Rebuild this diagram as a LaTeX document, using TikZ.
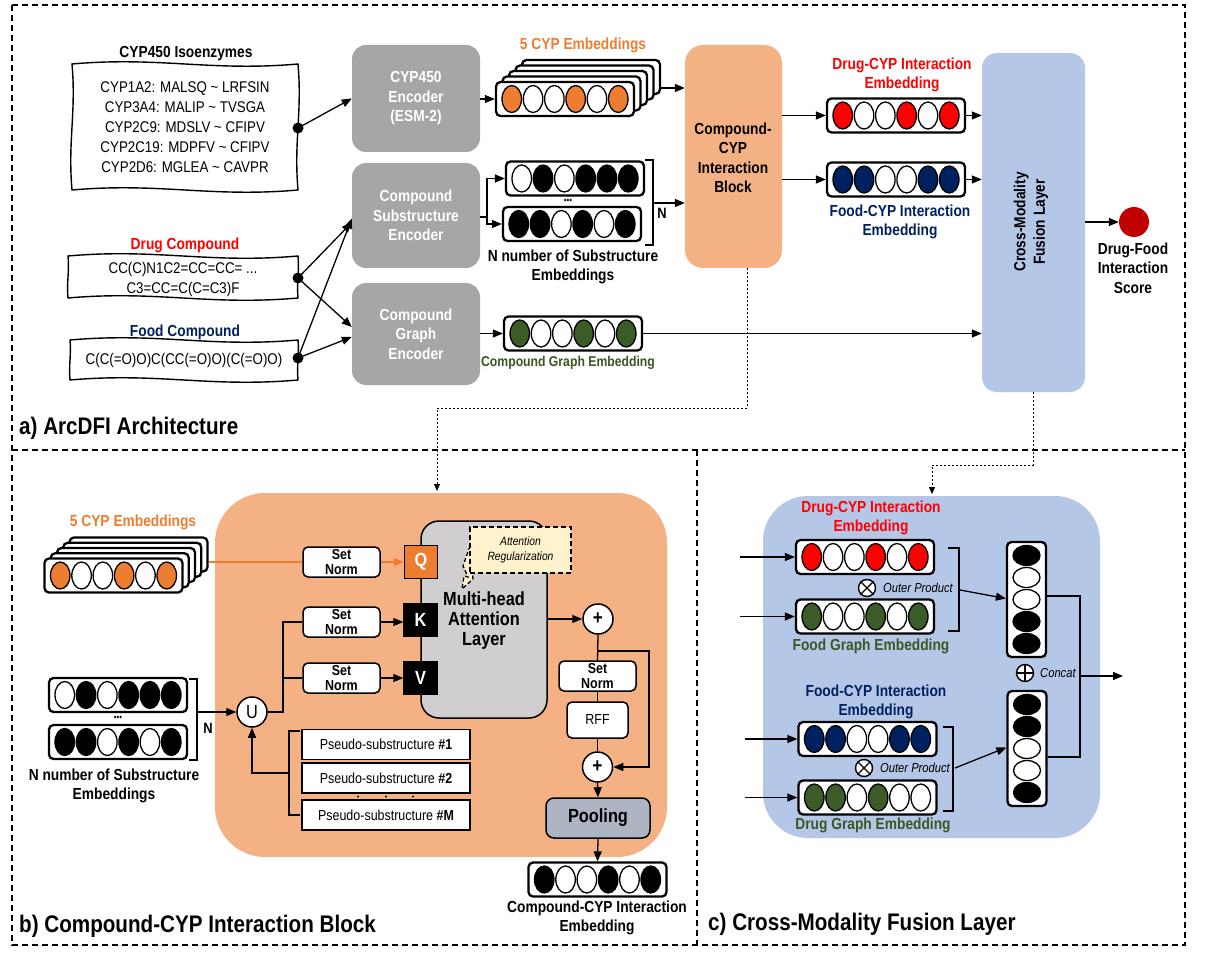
\documentclass[tikz,border=0pt]{standalone}
\usepackage{fontspec}
\setmainfont{Liberation Sans}[FakeStretch=0.86]
\usetikzlibrary{arrows.meta,shapes.geometric,calc}
\definecolor{eor}{HTML}{ED7D31}
\definecolor{ered}{HTML}{FF0000}
\definecolor{enav}{HTML}{002060}
\definecolor{egrn}{HTML}{3B5B27}
\definecolor{tgrn}{HTML}{385723}
\definecolor{encg}{HTML}{A6A6A6}
\definecolor{blko}{HTML}{F4B183}
\definecolor{fusb}{HTML}{B4C7E7}
\definecolor{attg}{HTML}{D0CECE}
\definecolor{poolg}{HTML}{ADB5C2}
\definecolor{yel}{HTML}{FFF2CC}
\definecolor{scr}{HTML}{C00000}
\newcommand{\myfs}[2]{\fontsize{#1}{#2}\selectfont}
\newcommand{\embrow}[4]{%
  \node[embbox] (#1) at (#2,#3) {};
  \foreach \ecol [count=\ei] in {#4}{\node[embell,fill=\ecol] (#1e\ei) at ({#2+(\ei-3.5)*21.3},#3) {};}%
}
\newcommand{\vemb}[4]{%
  \node[vbox] (#1) at (#2,#3) {};
  \foreach \ecol [count=\ei] in {#4}{\node[vell,fill=\ecol] (#1e\ei) at (#2,{#3+(\ei-3)*22}) {};}%
}
\newcommand{\wbox}[4]{\draw[wbx] (#1,#2) to[out=5,in=185] (#3,#2) to[out=-85,in=95] (#3,#4) to[out=185,in=5] (#1,#4) to[out=95,in=-85] cycle;}
\begin{document}
\begin{tikzpicture}[x=1pt,y=-1pt,
  embbox/.style={draw, fill=white, line width=2.3pt, rounded corners=4.5pt, minimum width=138pt, minimum height=34pt, inner sep=0pt},
  embell/.style={ellipse, draw, line width=1.3pt, minimum width=19.5pt, minimum height=27pt, inner sep=0pt},
  vbox/.style={draw, fill=white, line width=2.3pt, rounded corners=4.5pt, minimum width=39pt, minimum height=115pt, inner sep=0pt},
  vell/.style={ellipse, draw, line width=1.3pt, minimum width=27pt, minimum height=20pt, inner sep=0pt},
  lab/.style={font=\bfseries\myfs{16}{19.5}, align=center, inner sep=0pt},
  reg/.style={font=\myfs{15.5}{20}, align=center, inner sep=0pt},
  enc/.style={fill=encg, rounded corners=14pt, minimum width=128pt, text=white, font=\bfseries\myfs{16}{19.5}, align=center},
  ttl/.style={font=\bfseries\myfs{24}{28}, anchor=west, inner sep=0pt},
  arr/.style={line width=1.3pt, -{Triangle[length=10pt,width=8pt]}},
  ln/.style={line width=1.3pt},
  brk/.style={line width=2.2pt},
  dotn/.style={circle, fill=black, minimum size=11pt, inner sep=0pt},
  sn/.style={draw, fill=white, rounded corners=5pt, line width=1.5pt, minimum width=77pt, minimum height=30pt, font=\bfseries\myfs{14.5}{15}, align=center, inner sep=0pt},
  qkv/.style={minimum size=33pt, inner sep=0pt, font=\bfseries\myfs{19}{20}, text=white, draw=black, line width=1.3pt},
  opc/.style={circle, draw, fill=white, line width=1.5pt, minimum size=30pt, inner sep=0pt, font=\myfs{19}{20}},
  ps/.style={draw, fill=white, line width=1.5pt, minimum width=168pt, minimum height=30pt, font=\myfs{14.5}{15}, inner sep=0pt},
  smop/.style={circle, draw, fill=white, line width=1.4pt, minimum size=17pt, inner sep=0pt},
  dsh/.style={line width=1.4pt, dash pattern=on 6pt off 4pt},
  conn/.style={line width=0.8pt, dash pattern=on 2pt off 2pt, -{Triangle[length=7pt,width=6pt]}},
  wbx/.style={line width=1.4pt, fill=white},
  itl/.style={font=\itshape\myfs{13}{15}, inner sep=0pt}
]
\useasboundingbox (0,0) rectangle (1209,957);
\fill[white] (0,0) rectangle (1209,957);

% ---------- frames ----------
\draw[dsh] (12,5) rectangle (1185,945);
\draw[dsh] (12,450) -- (1185,450);
\draw[dsh] (697,450) -- (697,945);

% ================= panel a =================
\wbox{72}{64}{298}{190}
\node[lab] (cyptitle) at (186,54) {CYP450 Isoenzymes};
\node[reg] (cyptext) at (185,127) {CYP1A2: MALSQ \textasciitilde{} LRFSIN\\CYP3A4: MALIP \textasciitilde{} TVSGA\\CYP2C9: MDSLV \textasciitilde{} CFIPV\\CYP2C19: MDPFV \textasciitilde{} CFIPV\\CYP2D6: MGLEA \textasciitilde{} CAVPR};
\node[dotn] (cypdot) at (298,128) {};

\node[lab, text=ered] (druglab) at (185,245) {Drug Compound};
\wbox{68}{256}{298}{298}
\node[reg] (drugtext) at (183,279) {CC(C)N1C2=CC=CC= ...\\C3=CC=C(C=C3)F};
\node[dotn] (drugdot) at (298,278) {};

\node[lab, text=enav] (foodlab) at (185,332) {Food Compound};
\wbox{70}{340}{298}{380}
\node[reg] (foodtext) at (184,360) {C(C(=O)O)C(CC(=O)O)(C(=O)O)};
\node[dotn] (fooddot) at (298,358) {};

\node[enc, minimum height=107pt] (cypenc) at (416,98.5) {CYP450\\Encoder\\(ESM-2)};
\node[enc, minimum height=105pt] (subenc) at (416,215.5) {Compound\\Substructure\\Encoder};
\node[enc, minimum height=102pt] (grenc) at (416,334) {Compound\\Graph\\Encoder};

\draw[arr] (cypdot.center) -- (cypenc.west);
\draw[arr] (drugdot.center) -- ($(subenc.west)+(0,7)$);
\draw[arr] (drugdot.center) -- ($(grenc.west)+(0,-7)$);
\draw[arr] (fooddot.center) -- ($(subenc.west)+(0,3)$);
\draw[arr] (fooddot.center) -- ($(grenc.west)+(0,3)$);

% 5 CYP embeddings (a)
\node[lab, text=eor] (cyplabA) at (583,45) {5 CYP Embeddings};
\foreach \k in {4,3,2,1}{\node[embbox] (cypA\k) at ({565+6.5*\k},{99-5.5*\k}) {};}
\embrow{cypA}{565}{99}{eor,white,white,eor,white,eor}
\draw[arr] (cypenc.east |- cypA.west) -- (cypA.west);

% substructure embeddings (a)
\embrow{subA1}{575}{178.5}{white,black,white,black,black,black}
\embrow{subA2}{572}{224}{black,black,white,black,white,black}
\node[font=\myfs{9}{9}] (subAdots) at (568,201) {\textbullet\textbullet\textbullet};
\coordinate (spA) at (487,217);
\draw[ln] (subenc.east |- spA) -- (spA);
\draw[arr] (spA) |- (subA1.west);
\draw[arr] (spA) |- (subA2.west);
\draw[brk] (645,160) -- (653,160) -- (653,245) -- (645,245);
\coordinate (brA) at (653,203);
\node[font=\bfseries\myfs{15}{15}] (nA) at (662,213) {N};
\node[lab] (sublabA) at (573,267) {N number of Substructure\\Embeddings};

% compound-CYP block (a)
\node[fill=blko, rounded corners=18pt, minimum width=97pt, minimum height=223pt, inner sep=0pt] (blkA) at (733.5,156.5) {};
\node[lab] (blkAtxt) at (733,158) {Compound-\\CYP\\Interaction\\Block};
\draw[arr] (cypA4.east |- cypA2.east) -- (blkA.west |- cypA2.east);
\draw[arr] (brA) -- (blkA.west |- brA);

% graph embedding (a)
\embrow{cgeA}{573}{333.5}{egrn,white,white,egrn,white,egrn}
\node[lab, text=tgrn, font=\bfseries\myfs{14.2}{16}] (cgelab) at (568,363) {Compound Graph Embedding};
\draw[arr] (grenc.east |- cgeA.west) -- (cgeA.west);

% interaction embeddings (a)
\node[lab, text=ered] (dcyplab) at (902,75) {Drug-CYP Interaction\\Embedding};
\embrow{dcypA}{896}{115.5}{ered,white,white,ered,white,ered}
\embrow{fcypA}{896}{179.5}{enav,enav,white,white,enav,enav}
\node[lab, text=enav] (fcyplab) at (900,222) {Food-CYP Interaction\\Embedding};

% fusion (a)
\node[fill=fusb, rounded corners=15pt, minimum width=103pt, minimum height=339pt, inner sep=0pt] (fus) at (1033.5,222.5) {};
\node[lab, rotate=90] (fustxt) at (1031,222) {Cross-Modality\\Fusion Layer};
\draw[arr] (blkA.east |- dcypA.west) -- (dcypA.west);
\draw[arr] (blkA.east |- fcypA.west) -- (fcypA.west);
\draw[arr] (dcypA.east) -- (fus.west |- dcypA.east);
\draw[arr] (fcypA.east) -- (fus.west |- fcypA.east);
\draw[arr] (cgeA.east) -- (fus.west |- cgeA.east);

\node[circle, fill=scr, minimum size=30pt, inner sep=0pt] (score) at (1134,222) {};
\draw[arr] (fus.east |- score) -- (score.west);
\node[lab] (scorelab) at (1133,268) {Drug-Food\\Interaction\\Score};

\node[ttl] (ttlA) at (19,428) {a) ArcDFI Architecture};

% dashed connectors
\coordinate (c1a) at (747,408);
\coordinate (c1b) at (437,491);
\draw[conn] (blkA.south -| c1a) -- (c1a) -| (c1b);
\coordinate (c2a) at (1033,465);
\coordinate (c2b) at (932,494);
\draw[conn] (fus.south -| c2a) -- (c2a) -| (c2b);

% ================= panel b =================
\node[fill=blko, rounded corners=50pt, minimum width=452pt, minimum height=364pt, inner sep=0pt] (blkB) at (441,675) {};

\node[lab, text=eor] (cyplabB) at (133,522) {5 CYP Embeddings};
\foreach \k in {4,3,2,1}{\node[embbox] (cypB\k) at ({113.5+6.25*\k},{575.5-5.25*\k}) {};}
\embrow{cypB}{113.5}{575.5}{eor,white,white,eor,white,eor}

\node[fill=attg, draw, line width=1.5pt, rounded corners=18pt, minimum width=126pt, minimum height=197pt, inner sep=0pt] (att) at (484,619.5) {};
\node[font=\bfseries\myfs{19}{20}, align=center, inner sep=0pt] (atttxt) at (484,621) {Multi-head\\Attention\\Layer};

\filldraw[fill=yel, line width=1.3pt, dash pattern=on 4pt off 2.5pt] (470,546) -- (484,552) -- (476,571) -- (472,570) -- (473,579) -- (462,589) -- (464,576) -- (468,577) -- (463,566) -- cycle;
\node[draw, fill=yel, line width=1.6pt, dash pattern=on 5pt off 3pt, minimum width=101pt, minimum height=46pt, align=center, font=\itshape\myfs{12}{15}, inner sep=0pt] (areg) at (520.5,550) {Attention\\Regularization};

\node[sn] (snQ) at (341.5,562) {Set\\Norm};
\node[sn] (snK) at (341.5,622) {Set\\Norm};
\node[sn] (snV) at (341.5,678) {Set\\Norm};
\node[qkv, fill=eor] (Q) at (421,562) {Q};
\node[qkv, fill=black] (K) at (420.5,620) {K};
\node[qkv, fill=black] (V) at (420.5,678) {V};

\draw[line width=1.5pt, eor] (cypB4.east |- snQ.west) -- (snQ.west);
\draw[line width=1.5pt, eor, -{Triangle[length=10pt,width=8pt]}] (snQ.east) -- (Q.west);
\draw[arr] (snK.east) -- (K.west |- snK.east);
\draw[arr] (snV.east) -- (V.west);

% substructure embeddings (b)
\embrow{subB1}{118}{695}{white,black,white,black,black,black}
\embrow{subB2}{118}{742}{black,black,white,black,white,black}
\node[font=\myfs{9}{9}] (subBdots) at (118,718) {\textbullet\textbullet\textbullet};
\draw[brk] (189,679) -- (197,679) -- (197,760) -- (189,760);
\node[font=\bfseries\myfs{15}{15}] (nB) at (208,728) {N};
\node[lab] (sublabB) at (114,786) {N number of Substructure\\Embeddings};

\node[opc] (U) at (252,712) {U};
\coordinate (sbB) at (197,712);
\draw[arr] (sbB) -- (U.west);
\coordinate (uj) at (283,712);
\draw[ln] (U.east) -- (uj) |- (snK.west);
\draw[ln] (uj |- snV.west) -- (snV.west);

\node[ps] (ps1) at (386,744.5) {Pseudo-substructure \textbf{\#1}};
\node[ps] (ps2) at (386,778) {Pseudo-substructure \textbf{\#2}};
\node[ps] (ps3) at (386,815) {Pseudo-substructure \textbf{\#M}};
\foreach \dx in {358,386,413}{\fill (\dx,796.5) circle (1.1pt);}
\draw[ln] (300,731) -- (289,731) -- (289,815) -- (300,815);
\coordinate (pb) at (289,773);
\draw[arr] (pb) -| (U.south);

% right column (b)
\node[opc, font=\bfseries\myfs{20}{20}] (p1) at (598,619) {+};
\node[sn] (sn2) at (597.5,676) {Set\\Norm};
\node[sn, font=\myfs{14.5}{15}, minimum width=61pt, minimum height=36pt] (rff) at (597.5,720) {RFF};
\node[opc, font=\bfseries\myfs{20}{20}] (p2) at (597.5,767) {+};
\node[fill=poolg, draw, line width=1.5pt, rounded corners=8pt, minimum width=104pt, minimum height=40pt, font=\bfseries\myfs{19}{20}, inner sep=0pt] (pool) at (598,818) {Pooling};

\draw[arr] (att.east |- p1) -- (p1.west);
\draw[ln] (p1.south) -- (sn2.north);
\coordinate (br1) at (598,651);
\coordinate (rc) at (649,651);
\draw[arr] (br1) -- (rc) |- (p2.east);
\draw[ln] (sn2.south) -- (rff.north);
\draw[ln] (rff.south) -- (p2.north);
\draw[arr] (p2.south) -- (pool.north);

\embrow{outB}{597.5}{879.5}{black,white,white,black,white,black}
\draw[arr] (pool.south) -- (outB.north);
\node[lab] (outlab) at (597,918) {Compound-CYP Interaction\\Embedding};

\node[ttl] (ttlB) at (19,926) {b) Compound-CYP Interaction Block};

% ================= panel c =================
\node[fill=fusb, rounded corners=45pt, minimum width=337pt, minimum height=342pt, inner sep=0pt] (fusC) at (931.5,667) {};

\node[lab, text=ered] (dcyplabC) at (871,518) {Drug-CYP Interaction\\Embedding};
\embrow{c1}{865}{557}{ered,white,white,ered,white,ered}
\embrow{c2}{865}{616.5}{egrn,white,white,egrn,white,egrn}
\node[lab, text=tgrn] (fglab) at (871,646) {Food Graph Embedding};
\node[smop] (ot1) at (867,588) {};
\draw[line width=1.3pt] (ot1.north west) -- (ot1.south east) (ot1.north east) -- (ot1.south west);
\node[itl, anchor=west] (otl1) at (883,588) {Outer Product};

\node[lab, text=enav] (fcyplabC) at (876,702) {Food-CYP Interaction\\Embedding};
\embrow{c3}{867.5}{739}{enav,enav,white,white,enav,enav}
\embrow{c4}{867.5}{797.5}{egrn,egrn,white,egrn,white,white}
\node[lab, text=tgrn] (dglab) at (873,825) {Drug Graph Embedding};
\node[smop] (ot2) at (864,768) {};
\draw[line width=1.3pt] (ot2.north west) -- (ot2.south east) (ot2.north east) -- (ot2.south west);
\node[itl, anchor=west] (otl2) at (880,768) {Outer Product};

\coordinate (in1) at (740,557);
\coordinate (in2) at (740,616.5);
\coordinate (in3) at (745,739);
\coordinate (in4) at (745,797.5);
\draw[arr] (in1) -- (c1.west);
\draw[arr] (in2) -- (c2.west);
\draw[arr] (in3) -- (c3.west);
\draw[arr] (in4) -- (c4.west);

\draw[brk] (948,548) -- (959,548) -- (959,631) -- (948,631);
\draw[brk] (943,727) -- (953,727) -- (953,811) -- (943,811);

\vemb{v1}{1026.5}{599.5}{black,white,white,black,black}
\vemb{v2}{1027}{748.5}{black,black,white,white,black}

\coordinate (b1) at (960,590);
\coordinate (b2) at (955,768);
\draw[arr] (b1) -- ($(v1.west)+(0,-1)$);
\draw[arr] (b2) -- ($(v2.west)+(0,-1)$);

\coordinate (cj1) at (1080,596);
\coordinate (cj2) at (1080,757);
\coordinate (cjm) at (1080,676);
\coordinate (cout) at (1123,676);
\draw[line width=1.8pt] (v1.east |- cj1) -- (cj1) -- (cj2) -- (v2.east |- cj2);
\draw[arr] (cjm) -- (cout);
\node[smop] (cc) at (1025,673) {};
\draw[line width=1.3pt] (cc.north) -- (cc.south) (cc.west) -- (cc.east);
\node[itl, anchor=west] (cclab) at (1040,673) {Concat};

\node[ttl] (ttlC) at (708,924) {c) Cross-Modality Fusion Layer};
\end{tikzpicture}
\end{document}
